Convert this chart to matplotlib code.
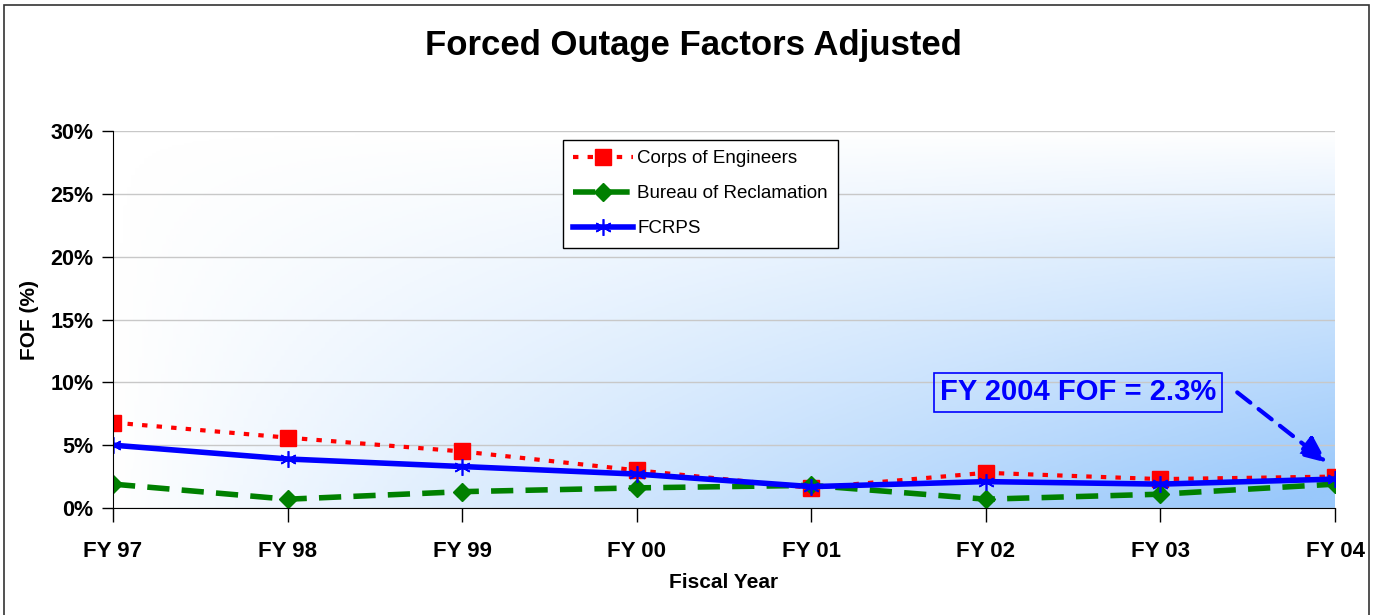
import numpy as np
import matplotlib
matplotlib.use('Agg')
from matplotlib import pyplot as plt
from matplotlib.colors import LinearSegmentedColormap
from matplotlib.patches import Rectangle

plt.rcParams['font.family'] = ['Liberation Sans', 'DejaVu Sans']

years = ['FY 97', 'FY 98', 'FY 99', 'FY 00', 'FY 01', 'FY 02', 'FY 03', 'FY 04']
corps = [6.8, 5.6, 4.5, 3.0, 1.6, 2.8, 2.3, 2.5]
bureau = [1.9, 0.7, 1.3, 1.6, 1.8, 0.7, 1.1, 1.9]
fcrps = [5.0, 3.9, 3.3, 2.7, 1.7, 2.1, 1.9, 2.3]
yticks = [0, 5, 10, 15, 20, 25, 30]

fig = plt.figure(figsize=(13.73, 6.15), dpi=100)
ax = fig.add_axes([113 / 1373, 1 - 508 / 615, 1222 / 1373, 377 / 615])

# background gradient: white top-left to light blue bottom-right
gx, gy = np.meshgrid(np.linspace(0, 1, 300), np.linspace(0, 1, 200))
t = np.clip(gx * gy * 1.05, 0, 1) ** 0.9
cmap = LinearSegmentedColormap.from_list('bg', ['#ffffff', '#99c8fb'])
ax.imshow(t, cmap=cmap, extent=[0, 1, 0, 1], transform=ax.transAxes,
          aspect='auto', origin='upper', zorder=0, vmin=0, vmax=1)

x = np.arange(len(years))
ax.plot(x, corps, color='#ff0000', lw=3, ls=(0, (1.3, 2.2)), marker='s',
        ms=11, label='Corps of Engineers', zorder=3)
ax.plot(x, bureau, color='#008000', lw=4, ls=(0, (4, 2.2)), marker='D',
        ms=9, label='Bureau of Reclamation', zorder=3)
ax.plot(x, fcrps, color='#0000ff', lw=4, marker=(6, 2, 0), ms=12, mew=1.2,
        label='FCRPS', zorder=4)

ax.set_xlim(0, 7)
ax.set_ylim(0, 30)
ax.set_yticks(yticks)
ax.set_yticklabels([f'{v}%' for v in yticks], fontsize=15.5, fontweight='bold')
ax.set_xticks(x)
ax.set_xticklabels(years, fontsize=16, fontweight='bold')
ax.tick_params(axis='x', length=10, width=1, pad=14)
ax.tick_params(axis='y', length=8, width=1, pad=6)
ax.grid(axis='y', color='#c8c8c8', lw=1, zorder=1)
for s in ['top', 'right']:
    ax.spines[s].set_visible(False)
ax.spines['left'].set_zorder(5)
ax.spines['bottom'].set_zorder(5)

ax.set_xlabel('Fiscal Year', fontsize=15, fontweight='bold', labelpad=8)
ax.set_ylabel('FOF (%)', fontsize=15, fontweight='bold', labelpad=8)
fig.text(693 / 1373, 1 - 46 / 615, 'Forced Outage Factors Adjusted',
         fontsize=25, fontweight='bold', ha='center', va='center')

leg = ax.legend(loc='upper left', bbox_to_anchor=(450 / 1222, 0.976),
                fontsize=13.5, frameon=True, fancybox=False, handlelength=3.2,
                labelspacing=0.95, borderpad=0.55, handletextpad=0.2,
                borderaxespad=0)
leg.get_frame().set_edgecolor('black')
leg.get_frame().set_facecolor('white')
leg.get_frame().set_alpha(1)

ax.text(5.53, 9.2, 'FY 2004 FOF = 2.3%', fontsize=21, fontweight='bold',
        color='#0000ff', ha='center', va='center', zorder=6,
        bbox=dict(boxstyle='square,pad=0.2', fc='none', ec='#0000ff', lw=1.2))
ax.annotate('', xy=(6.955, 3.6), xytext=(6.44, 9.2),
            arrowprops=dict(arrowstyle='-|>,head_length=1.6,head_width=0.7',
                            color='#0000ff', lw=3, ls=(0, (4, 2.5)),
                            shrinkA=0, shrinkB=0), zorder=6)

fig.add_artist(Rectangle((4 / 1373, -0.01), 1365 / 1373, 1 - 5 / 615 + 0.01,
                         transform=fig.transFigure, fill=False,
                         ec='#333333', lw=1.2))

fig.savefig('out.png', dpi=100)
